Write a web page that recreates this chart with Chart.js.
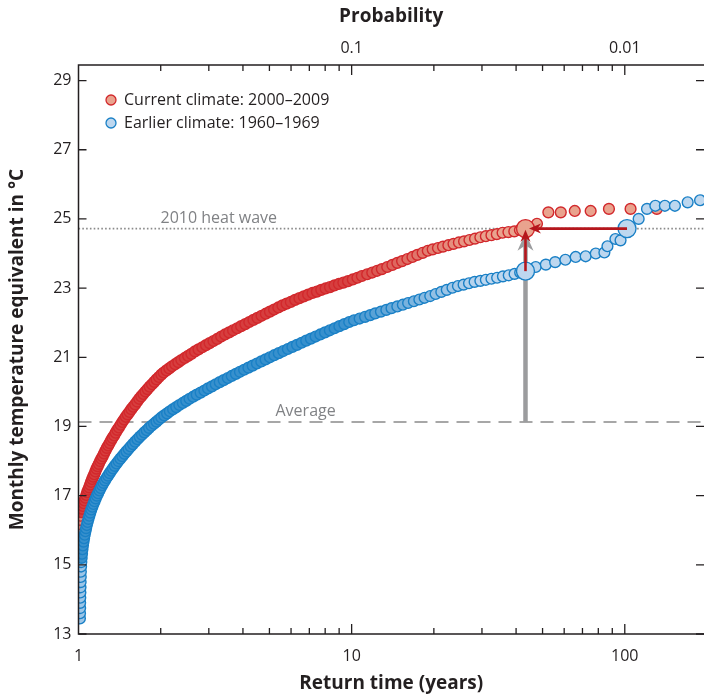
<!DOCTYPE html>
<html>
<head>
<meta charset="utf-8">
<script src="https://cdn.jsdelivr.net/npm/chart.js@4"></script>
<style>
  html, body { margin: 0; padding: 0; background: #fff; }
</style>
</head>
<body>
<canvas id="myChart" width="704" height="694"></canvas>
<script>
// return time (years) and temperature (°C)
const returnCurrent = [1.008,1.012,1.016,1.02,1.026,1.032,1.038,1.045,1.052,1.06,1.068,1.076,1.085,1.094,1.103,1.112,1.122,1.132,1.142,1.153,1.164,1.175,1.187,1.2,1.213,1.226,1.24,1.255,1.27,1.285,1.3,1.316,1.332,1.35,1.368,1.387,1.406,1.426,1.447,1.468,1.49,1.513,1.537,1.561,1.586,1.612,1.64,1.668,1.697,1.727,1.758,1.79,1.823,1.858,1.894,1.931,1.97,2.01,2.05,2.1,2.15,2.2,2.26,2.32,2.38,2.45,2.52,2.59,2.67,2.75,2.84,2.93,3.02,3.12,3.22,3.33,3.44,3.56,3.68,3.81,3.94,4.08,4.22,4.37,4.52,4.68,4.85,5.02,5.2,5.39,5.58,5.78,5.99,6.21,6.44,6.68,6.93,7.19,7.46,7.74,8.03,8.33,8.65,8.98,9.33,9.7,10.1,10.5,10.9,11.4,11.9,12.4,12.9,13.5,14.1,14.7,15.3,16.0,16.7,17.4,18.2,19.0,19.8,20.7,21.6,22.6,23.6,24.7,25.8,27.0,28.3,29.6,31.0,32.5,34.0,35.7,37.5,39.4,41.3,47.7,52.5,58.3,65.6,75.0,87.5,105,131];
const tempCurrent = [16.05,16.18,16.3,16.42,16.52,16.62,16.7,16.78,16.86,16.94,17.02,17.1,17.17,17.24,17.32,17.4,17.48,17.55,17.62,17.7,17.78,17.85,17.92,18.0,18.07,18.14,18.22,18.3,18.38,18.45,18.52,18.6,18.67,18.74,18.82,18.9,18.97,19.05,19.13,19.2,19.28,19.35,19.42,19.5,19.57,19.64,19.72,19.8,19.87,19.94,20.01,20.08,20.15,20.22,20.29,20.36,20.43,20.5,20.56,20.62,20.68,20.74,20.8,20.86,20.92,20.98,21.04,21.1,21.17,21.23,21.29,21.35,21.41,21.47,21.53,21.6,21.66,21.72,21.78,21.84,21.9,21.96,22.02,22.08,22.14,22.2,22.26,22.32,22.38,22.44,22.5,22.55,22.6,22.66,22.71,22.76,22.81,22.86,22.9,22.95,22.99,23.03,23.08,23.12,23.16,23.2,23.25,23.3,23.35,23.4,23.45,23.5,23.55,23.61,23.67,23.73,23.78,23.84,23.9,23.96,24.02,24.08,24.12,24.16,24.2,24.24,24.28,24.32,24.35,24.39,24.43,24.47,24.5,24.53,24.56,24.6,24.62,24.64,24.68,24.86,25.19,25.19,25.23,25.23,25.29,25.29,25.29];

const returnEarlier = [1.012,1.013,1.014,1.014,1.015,1.016,1.017,1.018,1.019,1.02,1.022,1.024,1.027,1.03,1.034,1.038,1.043,1.048,1.054,1.06,1.066,1.073,1.08,1.088,1.096,1.105,1.114,1.124,1.134,1.145,1.156,1.168,1.18,1.193,1.206,1.22,1.235,1.25,1.266,1.283,1.3,1.318,1.337,1.357,1.378,1.4,1.423,1.447,1.472,1.498,1.525,1.553,1.582,1.612,1.643,1.675,1.708,1.742,1.777,1.813,1.85,1.89,1.93,1.97,2.01,2.06,2.11,2.16,2.22,2.28,2.34,2.41,2.48,2.55,2.63,2.71,2.8,2.89,2.98,3.08,3.18,3.29,3.4,3.52,3.64,3.77,3.9,4.04,4.19,4.34,4.5,4.67,4.84,5.02,5.21,5.41,5.62,5.84,6.07,6.31,6.56,6.82,7.09,7.38,7.68,7.99,8.32,8.66,9.02,9.4,9.8,10.2,10.7,11.2,11.7,12.2,12.8,13.4,14.0,14.7,15.4,16.1,16.9,17.7,18.5,19.4,20.3,21.3,22.3,23.4,24.5,25.7,26.9,28.2,29.6,31.0,32.5,34.1,35.8,37.6,39.5,41.4,47.2,51.4,55.6,60.6,66.1,71.9,78.3,84.2,86.4,92.4,96.5,112.4,120.6,129.4,140.2,152.6,169.9,188.6];
const tempEarlier = [13.45,13.6,13.75,13.9,14.05,14.2,14.35,14.5,14.65,14.8,14.95,15.08,15.2,15.32,15.45,15.56,15.67,15.77,15.87,15.97,16.06,16.15,16.24,16.33,16.42,16.51,16.6,16.68,16.76,16.84,16.92,17.0,17.07,17.15,17.22,17.3,17.37,17.44,17.51,17.58,17.65,17.72,17.79,17.86,17.93,18.0,18.07,18.14,18.21,18.28,18.35,18.42,18.49,18.56,18.63,18.7,18.76,18.83,18.89,18.96,19.02,19.08,19.14,19.2,19.26,19.32,19.38,19.44,19.5,19.56,19.62,19.68,19.74,19.8,19.86,19.92,19.98,20.04,20.1,20.16,20.22,20.28,20.34,20.4,20.46,20.52,20.58,20.64,20.7,20.76,20.82,20.88,20.94,21.0,21.06,21.12,21.18,21.24,21.3,21.36,21.42,21.48,21.54,21.6,21.66,21.72,21.78,21.84,21.9,21.96,22.02,22.07,22.12,22.17,22.22,22.27,22.32,22.37,22.42,22.47,22.52,22.57,22.62,22.67,22.72,22.77,22.83,22.89,22.95,23.01,23.06,23.1,23.14,23.18,23.21,23.24,23.27,23.3,23.34,23.37,23.41,23.45,23.61,23.68,23.75,23.82,23.9,23.92,24.0,24.03,24.21,24.42,24.38,25.0,25.29,25.38,25.38,25.38,25.48,25.54];

// highlighted points (2010 heat wave)
const markCurrentX = [43.3];
const markCurrentY = [24.72];
const markEarlierX = [43.3, 101.9];
const markEarlierY = [23.49, 24.72];

const heatWave = 24.72;
const average = 19.13;

// arrows: [fromX, fromY, toX, toY]
const grayArrow = [43.3, 19.13, 43.3, 24.6];
const redArrows = [[43.3, 23.49, 43.3, 24.69], [101.9, 24.72, 44.6, 24.72]];

const yTicks = [13, 15, 17, 19, 21, 23, 25, 27, 29];
const xMajor = [10, 100];
const xMinor = [2, 3, 4, 5, 6, 7, 8, 9, 20, 30, 40, 50, 60, 70, 80, 90];
const xLabels = [1, 10, 100];
const probLabels = [0.1, 0.01];

const RED = [210, 40, 44], RED_FILL = [233, 163, 142];
const BLUE = [26, 128, 198], BLUE_FILL = [189, 215, 239];
const INK = "#231f20";
const FONT = '"Open Sans"';

function rgb(c) {
    return "rgb(" + c.map(Math.round).join(",") + ")";
}

// where the reference points pile up, their outlines hide the fill
function crowdFill(line, fill) {
    return (c) => {
        const p = c.raw;
        if (!p) return rgb(fill);
        let t = 1;
        if (p.x > 1.025) {
            t = Math.min(1, Math.max(0, Math.log10(p.x / 9) / Math.log10(30 / 9)));
        } else {
            t = 0.75;
        }
        const k = 0.18 + 0.82 * t;
        return rgb(line.map((v, i) => v + (fill[i] - v) * k));
    };
}

function pts(xs, ys) {
    return xs.map((v, i) => ({ x: v, y: ys[i] }));
}

function arrow(ctx, x0, y0, x1, y1, width, head, headW, color) {
    const ang = Math.atan2(y1 - y0, x1 - x0);
    ctx.strokeStyle = color;
    ctx.lineWidth = width;
    ctx.beginPath();
    ctx.moveTo(x0, y0);
    ctx.lineTo(x1 - Math.cos(ang) * head * 0.7, y1 - Math.sin(ang) * head * 0.7);
    ctx.stroke();
    ctx.save();
    ctx.translate(x1, y1);
    ctx.rotate(ang);
    ctx.beginPath();
    ctx.moveTo(0, 0);
    ctx.lineTo(-head, -headW / 2);
    ctx.lineTo(-head * 0.7, 0);
    ctx.lineTo(-head, headW / 2);
    ctx.closePath();
    ctx.fillStyle = color;
    ctx.fill();
    ctx.restore();
}

const decor = {
    id: "decor",
    beforeDatasetsDraw(chart) {
        const { ctx, chartArea: a, scales: { x, y } } = chart;
        ctx.save();
        // reference lines
        ctx.strokeStyle = "#8b8b8b";
        ctx.lineWidth = 1.6;
        ctx.setLineDash([1.6, 2.2]);
        let py = y.getPixelForValue(heatWave);
        ctx.beginPath(); ctx.moveTo(a.left, py); ctx.lineTo(a.right, py); ctx.stroke();
        ctx.setLineDash([13, 8]);
        ctx.lineWidth = 1.4;
        py = y.getPixelForValue(average);
        ctx.beginPath(); ctx.moveTo(a.left, py); ctx.lineTo(a.right, py); ctx.stroke();
        ctx.setLineDash([]);

        ctx.fillStyle = "#808285";
        ctx.font = "16px " + FONT;
        ctx.textBaseline = "alphabetic";
        ctx.textAlign = "left";
        ctx.fillText("2010 heat wave", a.left + 82, y.getPixelForValue(heatWave) - 6);
        ctx.fillText("Average", a.left + 197, y.getPixelForValue(average) - 6);

        arrow(ctx, x.getPixelForValue(grayArrow[0]), y.getPixelForValue(grayArrow[1]),
            x.getPixelForValue(grayArrow[2]), y.getPixelForValue(grayArrow[3]), 4.5, 18, 16, "#9b9c9e");
        ctx.restore();
    },
    afterDatasetsDraw(chart) {
        const { ctx, chartArea: a, scales: { x, y } } = chart;
        ctx.save();
        redArrows.forEach((r) => {
            arrow(ctx, x.getPixelForValue(r[0]), y.getPixelForValue(r[1]),
                x.getPixelForValue(r[2]), y.getPixelForValue(r[3]), 2.6, 12, 10, "#b5161c");
        });

        // frame
        ctx.strokeStyle = INK;
        ctx.lineWidth = 1.5;
        ctx.beginPath();
        ctx.moveTo(a.right + 1, a.top); ctx.lineTo(a.left, a.top);
        ctx.lineTo(a.left, a.bottom); ctx.lineTo(a.right + 1, a.bottom);
        ctx.stroke();

        // ticks
        ctx.lineWidth = 1.3;
        ctx.beginPath();
        xMajor.forEach((v) => {
            const px = x.getPixelForValue(v);
            ctx.moveTo(px, a.bottom); ctx.lineTo(px, a.bottom - 10);
            ctx.moveTo(px, a.top); ctx.lineTo(px, a.top + 10);
        });
        xMinor.forEach((v) => {
            const px = x.getPixelForValue(v);
            ctx.moveTo(px, a.bottom); ctx.lineTo(px, a.bottom - 6);
            ctx.moveTo(px, a.top); ctx.lineTo(px, a.top + 6);
        });
        yTicks.forEach((v) => {
            const py = y.getPixelForValue(v);
            ctx.moveTo(a.left, py); ctx.lineTo(a.left + 8, py);
            ctx.moveTo(a.right, py); ctx.lineTo(a.right - 8, py);
        });
        ctx.stroke();

        // tick labels
        ctx.fillStyle = INK;
        ctx.font = "16px " + FONT;
        ctx.textBaseline = "middle";
        ctx.textAlign = "right";
        yTicks.forEach((v) => ctx.fillText(String(v), a.left - 7, y.getPixelForValue(v)));
        ctx.textAlign = "center";
        xLabels.forEach((v) => ctx.fillText(String(v), x.getPixelForValue(v), a.bottom + 22));
        probLabels.forEach((p) => ctx.fillText(String(p), x.getPixelForValue(1 / p), a.top - 17));

        // titles
        ctx.font = "bold 19px " + FONT;
        const cx = (a.left + a.right) / 2;
        ctx.fillText("Probability", cx, 17);
        ctx.fillText("Return time (years)", cx, 684);
        ctx.save();
        ctx.translate(18, (a.top + a.bottom) / 2);
        ctx.rotate(-Math.PI / 2);
        ctx.fillText("Monthly temperature equivalent in °C", 0, 0);
        ctx.restore();

        // legend
        ctx.font = "16px " + FONT;
        ctx.textAlign = "left";
        const swatches = [[RED, RED_FILL], [BLUE, BLUE_FILL]];
        chart.data.datasets.slice(0, 2).forEach((d, i) => {
            const ly = 100 + i * 23;
            ctx.beginPath();
            ctx.arc(111, ly, 5, 0, Math.PI * 2);
            ctx.fillStyle = rgb(swatches[i][1]);
            ctx.fill();
            ctx.lineWidth = 1.3;
            ctx.strokeStyle = rgb(swatches[i][0]);
            ctx.stroke();
            ctx.fillStyle = INK;
            ctx.fillText(d.label, 124, ly);
        });
        ctx.restore();
    }
};

const ctx = document.getElementById("myChart");
new Chart(ctx, {
    type: "scatter",
    data: {
        datasets: [
            {
                label: "Current climate: 2000–2009",
                data: pts(returnCurrent, tempCurrent),
                pointRadius: 5.4, borderWidth: 1.4,
                borderColor: rgb(RED), backgroundColor: crowdFill(RED, RED_FILL),
                order: 3, clip: 0
            },
            {
                label: "Earlier climate: 1960–1969",
                data: pts(returnEarlier, tempEarlier),
                pointRadius: 5.4, borderWidth: 1.4,
                borderColor: rgb(BLUE), backgroundColor: crowdFill(BLUE, BLUE_FILL),
                order: 2, clip: 0
            },
            {
                label: "heat wave (current)",
                data: pts(markCurrentX, markCurrentY),
                pointRadius: 9, borderWidth: 1.4,
                borderColor: rgb(RED), backgroundColor: rgb(RED_FILL),
                order: 1, clip: 0
            },
            {
                label: "heat wave (earlier)",
                data: pts(markEarlierX, markEarlierY),
                pointRadius: 9, borderWidth: 1.4,
                borderColor: rgb(BLUE), backgroundColor: rgb(BLUE_FILL),
                order: 0, clip: 0
            }
        ]
    },
    options: {
        responsive: false,
        animation: false,
        events: [],
        layout: { autoPadding: false, padding: { left: 78.5, right: -1, top: 65, bottom: 60 } },
        plugins: { legend: { display: false }, tooltip: { enabled: false } },
        scales: {
            x: { type: "logarithmic", min: 1, max: 195, display: false },
            y: { type: "linear", min: 13, max: 29.45, display: false }
        }
    },
    plugins: [decor]
});
</script>
</body>
</html>
